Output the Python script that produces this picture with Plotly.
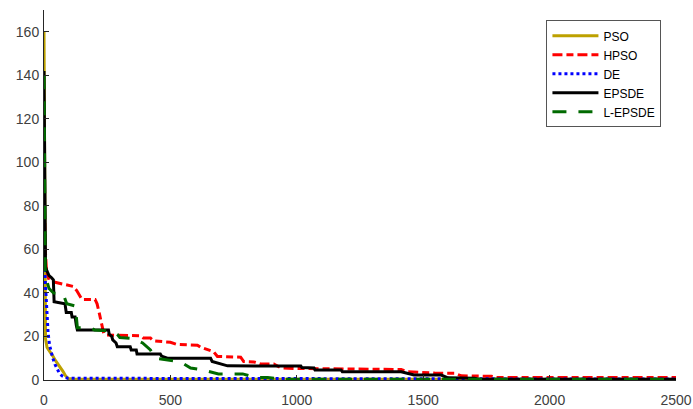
import plotly.graph_objects as go

# Convergence histories (iteration vs. best objective value)
pso_x = [0, 1, 2, 3, 4, 6, 12, 25, 35, 45, 55, 65, 75, 85, 95, 120, 2500]
pso_y = [160, 130, 90, 50, 25, 19, 15, 13, 11, 9, 7.5, 6, 4, 2, 0.7, 0.4, 0.3]

hpso_x = [0, 2, 5, 10, 20, 40, 80, 115, 130, 143, 150, 202, 210, 220, 230, 236, 245,
          381, 393, 421, 433, 500, 527, 607, 620, 631, 671, 686, 778, 790, 830, 857,
          909, 937, 988, 1413, 1440, 1545, 1624, 1651, 1770, 1790, 2500]
hpso_y = [90, 75, 60, 50, 46, 45, 44, 43, 41, 38, 37, 37, 35, 30, 25, 21.5, 20.7,
          20.3, 19.3, 19.3, 18, 17.3, 16.3, 16, 15, 14.5, 13, 10.8, 10.5, 8.5, 8.3, 7.3,
          7.3, 5.6, 5.3, 4.8, 3.8, 3.2, 3.1, 1.9, 1.7, 1.2, 1.1]

de_x = [0, 3, 6, 9, 12, 16, 22, 28, 35, 44, 52, 60, 70, 80, 95, 2500]
de_y = [62, 47, 43, 37, 29, 22, 16, 13, 10, 7, 5, 3.3, 2, 1.3, 0.8, 0.4]

epsde_x = [0, 2, 4, 6, 12, 20, 30, 37, 40, 83, 88, 108, 111, 123, 128, 132, 255, 258,
           268, 272, 285, 290, 341, 345, 365, 368, 460, 465, 488, 659, 665, 700, 726,
           1016, 1020, 1068, 1072, 1175, 1180, 1413, 1440, 1464, 1571, 1598, 1703, 1720, 2500]
epsde_y = [142, 100, 60, 52, 50, 48, 47, 46, 36, 35, 31, 31, 29, 29, 25, 23, 23, 21,
           20, 18.4, 17, 15.3, 15.3, 13.8, 13.8, 12, 12, 11, 10, 10, 8.5, 7.5, 6.5,
           6.4, 5.7, 5.5, 4.6, 4.6, 3.8, 3.8, 3, 2.3, 2.3, 1, 0.8, 0.4, 0.3]

lepsde_x = [0, 2, 3, 5, 10, 20, 37, 76, 90, 123, 128, 132, 182, 200, 270, 290, 300, 353,
            390, 401, 421, 440, 500, 530, 548, 580, 630, 671, 690, 786, 810, 837, 885, 950, 2500]
lepsde_y = [140, 90, 62, 50, 46, 42, 40, 39.5, 35, 34, 29, 24, 24, 23, 22.5, 21, 19.5, 19,
            17, 16, 13.8, 10, 9.2, 8.5, 7.8, 5.5, 4.6, 3.2, 2.8, 2.8, 2, 1.1, 1.1, 0.4, 0.3]

series = [
    ("PSO", pso_x, pso_y, "#bda100", "solid"),
    ("HPSO", hpso_x, hpso_y, "#ff0000", "10px,4px,7px,4px"),
    ("DE", de_x, de_y, "#0000ff", "3px,3px"),
    ("EPSDE", epsde_x, epsde_y, "#000000", "solid"),
    ("L-EPSDE", lepsde_x, lepsde_y, "#006a00", "14px,12px"),
]

fig = go.Figure()
for name, xs, ys, color, dash in series:
    fig.add_trace(go.Scatter(x=xs, y=ys, mode="lines", name=name,
                             line=dict(color=color, width=3, dash=dash)))

axis_style = dict(showline=True, linecolor="#262626", linewidth=1, ticks="inside",
                  ticklen=5, tickcolor="#262626", showgrid=False, zeroline=False,
                  automargin=False,
                  tickfont=dict(family="Arial, Liberation Sans", size=14, color="#404040"))

fig.update_xaxes(range=[0, 2500], tickvals=[0, 500, 1000, 1500, 2000, 2500],
                 ticklabelstandoff=7, **axis_style)
fig.update_yaxes(range=[0, 170], tickvals=list(range(0, 161, 20)),
                 ticklabelstandoff=1, **axis_style)

fig.update_layout(
    width=693, height=409,
    margin=dict(l=44, r=17, t=10, b=29),
    paper_bgcolor="white", plot_bgcolor="white",
    showlegend=True,
    legend=dict(x=0.795, y=0.972, xanchor="left", yanchor="top",
                bgcolor="white", bordercolor="#555555", borderwidth=1,
                font=dict(family="Arial, Liberation Sans", size=12, color="#000000"),
                itemwidth=46),
)

fig.write_html("out.html")
